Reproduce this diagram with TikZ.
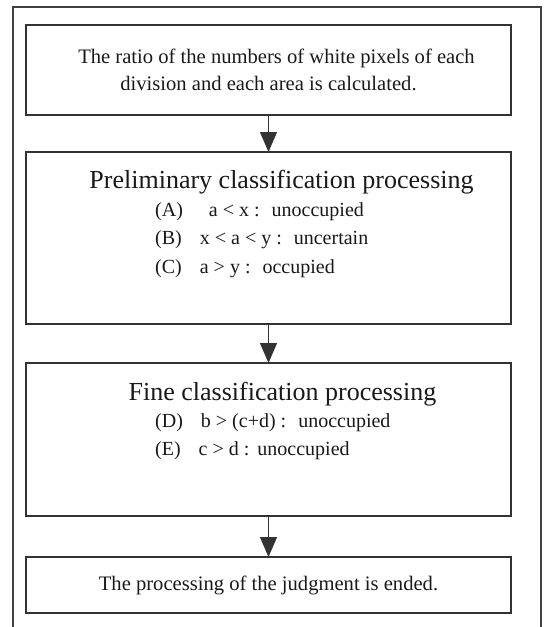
\documentclass[tikz,border=0pt]{standalone}
\usepackage{fontspec}
\setmainfont{Liberation Serif}
\usetikzlibrary{positioning, arrows.meta}

\begin{document}
\begin{tikzpicture}[x=1pt, y=1pt, >={Triangle[width=17pt, length=20pt]},
    box/.style={draw=black!80, line width=1.6pt, minimum width=485pt, inner sep=0pt, outer sep=0pt,
        align=center, text=black!90, font=\fontsize{20.6}{27}\selectfont},
    heading/.style={anchor=base, inner sep=0pt, text=black!90, font=\fontsize{26}{30}\selectfont},
    cases/.style={anchor=north west, inner sep=0pt, align=left, text=black!90, font=\fontsize{20}{28.5}\selectfont}]
    \useasboundingbox (0,0) rectangle (544,-627);
    % Frame
    \draw[black!75, line width=1.6pt] (13,-627) |- (541,-7) -- (541,-627);

    % Boxes
    \node[box, minimum height=90pt] (ratio) at (268.5,-70)
        {\hspace*{16pt}The ratio of the numbers of white pixels of each\\ division and each area is calculated.};
    \node[box, minimum height=172pt, below=37pt of ratio] (prelim) {};
    \node[box, minimum height=153pt, below=39pt of prelim] (fine) {};
    \node[box, minimum height=56pt, below=41pt of fine] (ended) {The processing of the judgment is ended.};

    % Texts inside
    \node[heading] (prelimtitle) at ([xshift=13pt, yshift=-36pt]prelim.north) {Preliminary classification processing};
    \node[cases] (prelimcases) at ([xshift=129pt, yshift=-50pt]prelim.north west)
        {(A)\hspace{1.3em}a < x\ :\hspace{0.6em}unoccupied\\
         (B)\hspace{0.9em}x < a < y\ :\hspace{0.6em}uncertain\\
         (C)\hspace{0.9em}a > y\ :\hspace{0.6em}occupied};
    \node[heading] (finetitle) at ([xshift=14pt, yshift=-37pt]fine.north) {Fine classification processing};
    \node[cases] (finecases) at ([xshift=129pt, yshift=-50pt]fine.north west)
        {(D)\hspace{0.9em}b > (c+d)\ :\hspace{0.6em}unoccupied\\
         (E)\hspace{0.9em}c > d\ :\hspace{0.4em}unoccupied};

    % Arrows
    \draw[->, black!80, line width=1.2pt] (ratio) -- (prelim);
    \draw[->, black!80, line width=1.2pt] (prelim) -- (fine);
    \draw[->, black!80, line width=1.2pt] (fine) -- (ended);
\end{tikzpicture}
\end{document}
